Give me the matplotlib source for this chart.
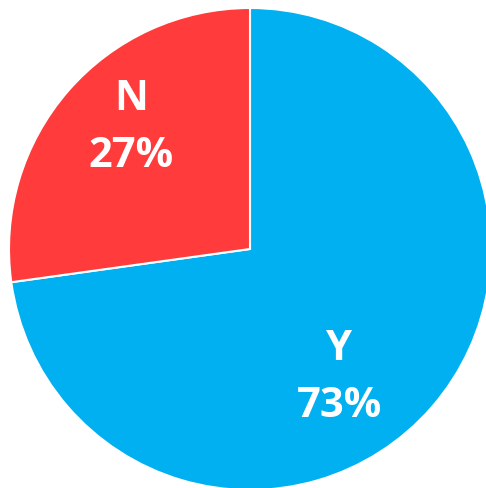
import matplotlib
matplotlib.use("Agg")
import matplotlib.pyplot as plt

categories = ["Y", "N"]
values = [72.8, 27.2]
colors = ["#00B0F0", "#FF3B3B"]

W, H = 486, 488
fig = plt.figure(figsize=(W / 100, H / 100), dpi=100)
ax = fig.add_axes([0, 0, 1, 1])

cx, cy, r = 250, H - 249, 241
ax.pie(values, colors=colors, startangle=90, counterclock=False,
       center=(cx, cy), radius=r, frame=True,
       wedgeprops=dict(edgecolor="white", linewidth=1.5))
ax.set_xlim(0, W)
ax.set_ylim(0, H)
ax.set_aspect("equal")
ax.axis("off")

# label baselines (pixel rows from top) for name line and percent line
label_pos = {"Y": (339, 360, 417), "N": (131, 110, 167)}
font = dict(ha="center", va="baseline", color="white", fontsize=30,
            fontweight="bold", family=["Open Sans", "DejaVu Sans"])
for cat, v in zip(categories, values):
    x, y1, y2 = label_pos[cat]
    ax.text(x, H - y1, cat, **font)
    ax.text(x, H - y2, f"{round(v)}%", **font)

fig.savefig("out.png", dpi=100)
